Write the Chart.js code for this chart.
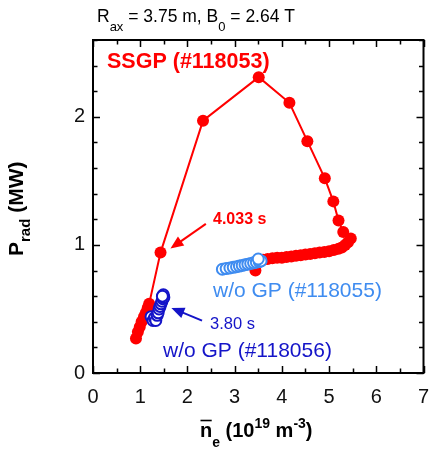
<!DOCTYPE html>
<html>
<head>
<meta charset="utf-8">
<script src="https://cdn.jsdelivr.net/npm/chart.js@4.4.1/dist/chart.umd.min.js"></script>
<style>
  html, body { margin: 0; padding: 0; background: #fff; }
  #wrap { width: 431px; height: 454px; }
</style>
</head>
<body>
<div id="wrap"><canvas id="c" width="431" height="454"></canvas></div>
<script>
// SSGP discharge #118053: line-averaged density vs radiated power
const ssgpNe   = [0.91, 0.95, 0.99, 1.03, 1.08, 1.12, 1.16, 1.19, 1.43, 2.33, 3.51, 4.16, 4.54, 4.91, 5.09, 5.20, 5.30, 5.46,
                  5.40, 5.34, 5.27, 5.20, 5.10, 5.00, 4.90, 4.80, 4.70, 4.60, 4.50, 4.40, 4.30, 4.20, 4.10, 4.00, 3.90, 3.80, 3.70, 3.60, 3.50, 3.44];
const ssgpPrad = [0.27, 0.32, 0.36, 0.40, 0.44, 0.47, 0.51, 0.54, 0.94, 1.97, 2.31, 2.11, 1.81, 1.52, 1.34, 1.19, 1.10, 1.05,
                  1.02, 1.00, 0.98, 0.97, 0.96, 0.95, 0.945, 0.94, 0.935, 0.93, 0.925, 0.92, 0.915, 0.91, 0.905, 0.90, 0.90, 0.895, 0.89, 0.885, 0.88, 0.80];

// Without gas puff, #118055
const gp55Ne   = [2.74, 2.82, 2.90, 2.97, 3.04, 3.10, 3.16, 3.22, 3.28, 3.34, 3.40, 3.46, 3.52, 3.56, 3.50];
const gp55Prad = [0.81, 0.815, 0.82, 0.825, 0.83, 0.835, 0.84, 0.845, 0.85, 0.855, 0.86, 0.865, 0.87, 0.875, 0.89];

// Without gas puff, #118056
const gp56Ne   = [1.23, 1.27, 1.30, 1.33, 1.36, 1.38, 1.40, 1.42, 1.44, 1.46, 1.48, 1.50, 1.49, 1.47];
const gp56Prad = [0.44, 0.41, 0.43, 0.41, 0.45, 0.47, 0.50, 0.52, 0.54, 0.56, 0.58, 0.59, 0.61, 0.60];

// Axis ranges and labelled ticks
const xTicks = [0, 1, 2, 3, 4, 5, 6, 7];
const yTicks = [0, 1, 2];
const xMinorStep = 0.5;
const yMinorStep = 0.2;

const RED = '#ff0000';
const LIGHT_BLUE = '#3f8cf0';
const DARK_BLUE = '#1414c8';
const FONT = "'Liberation Sans', Arial, Helvetica, sans-serif";

function pts(xs, ys) { return xs.map((x, i) => ({ x: x, y: ys[i] })); }

// Draws a run of text pieces (with sub/superscripts) starting at x, on baseline y
function richText(ctx, pieces, x, y, color) {
  ctx.save();
  ctx.fillStyle = color;
  ctx.textBaseline = 'alphabetic';
  ctx.textAlign = 'left';
  let cx = x;
  const spans = [];
  for (const p of pieces) {
    ctx.font = p.font;
    ctx.fillText(p.t, cx, y + (p.dy || 0));
    const w = ctx.measureText(p.t).width;
    spans.push({ x0: cx, x1: cx + w });
    cx += w;
  }
  ctx.restore();
  return spans;
}

function arrow(ctx, x0, y0, x1, y1, color) {
  const ang = Math.atan2(y1 - y0, x1 - x0);
  const len = 13, half = 5.5;
  ctx.save();
  ctx.strokeStyle = color;
  ctx.fillStyle = color;
  ctx.lineWidth = 2;
  ctx.beginPath();
  ctx.moveTo(x0, y0);
  ctx.lineTo(x1 - Math.cos(ang) * len * 0.8, y1 - Math.sin(ang) * len * 0.8);
  ctx.stroke();
  ctx.beginPath();
  ctx.moveTo(x1, y1);
  ctx.lineTo(x1 - Math.cos(ang) * len + Math.sin(ang) * half, y1 - Math.sin(ang) * len - Math.cos(ang) * half);
  ctx.lineTo(x1 - Math.cos(ang) * len - Math.sin(ang) * half, y1 - Math.sin(ang) * len + Math.cos(ang) * half);
  ctx.closePath();
  ctx.fill();
  ctx.restore();
}

// Frame with inward major/minor ticks on all four sides
const framePlugin = {
  id: 'frame',
  afterDatasetsDraw(chart) {
    const { ctx, chartArea: a, scales: { x, y } } = chart;
    ctx.save();
    ctx.strokeStyle = '#000';
    ctx.lineWidth = 1.5;
    const major = 7, minor = 4.5;
    ctx.beginPath();
    for (let v = x.min; v <= x.max + 1e-9; v += xMinorStep) {
      const px = Math.round(x.getPixelForValue(v)) + 0.5;
      const isMajor = Math.abs(v - Math.round(v)) < 1e-6;
      const L = isMajor ? major : minor;
      ctx.moveTo(px, a.bottom); ctx.lineTo(px, a.bottom - L);
      ctx.moveTo(px, a.top); ctx.lineTo(px, a.top + L);
    }
    for (let v = y.min; v <= y.max + 1e-9; v += yMinorStep) {
      const py = Math.round(y.getPixelForValue(v)) + 0.5;
      const isMajor = Math.abs(v - Math.round(v)) < 1e-6;
      const L = isMajor ? major : minor;
      ctx.moveTo(a.left, py); ctx.lineTo(a.left + L, py);
      ctx.moveTo(a.right, py); ctx.lineTo(a.right - L, py);
    }
    ctx.stroke();
    ctx.lineWidth = 2;
    ctx.strokeRect(a.left, a.top, a.right - a.left, a.bottom - a.top);
    ctx.restore();
  }
};

// Titles, axis labels, series labels and time markers
const labelPlugin = {
  id: 'labels',
  afterDraw(chart) {
    const { ctx, scales: { x, y } } = chart;

    // Heading
    richText(ctx, [
      { t: 'R', font: `17.5px ${FONT}` },
      { t: 'ax', font: `13px ${FONT}`, dy: 9 },
      { t: ' = 3.75 m, B', font: `17.5px ${FONT}` },
      { t: '0', font: `13px ${FONT}`, dy: 9 },
      { t: ' = 2.64 T', font: `17.5px ${FONT}` }
    ], 97, 22, '#000');

    // X axis title with overline on n
    const sp = richText(ctx, [
      { t: 'n', font: `bold 20px ${FONT}` },
      { t: 'e', font: `bold 14px ${FONT}`, dy: 10 },
      { t: ' (10', font: `bold 20px ${FONT}` },
      { t: '19', font: `bold 14px ${FONT}`, dy: -9 },
      { t: ' m', font: `bold 20px ${FONT}` },
      { t: '-3', font: `bold 14px ${FONT}`, dy: -9 },
      { t: ')', font: `bold 20px ${FONT}` }
    ], 200, 437, '#000');
    ctx.save();
    ctx.strokeStyle = '#000';
    ctx.lineWidth = 1.6;
    ctx.beginPath();
    ctx.moveTo(sp[0].x0 + 0.5, 420.5);
    ctx.lineTo(sp[0].x1 - 0.5, 420.5);
    ctx.stroke();
    ctx.restore();

    // Y axis title, rotated
    ctx.save();
    ctx.translate(23, 256);
    ctx.rotate(-Math.PI / 2);
    richText(ctx, [
      { t: 'P', font: `bold 21px ${FONT}` },
      { t: 'rad', font: `bold 15px ${FONT}`, dy: 7 },
      { t: ' (MW)', font: `bold 21px ${FONT}` }
    ], 0, 0, '#000');
    ctx.restore();

    // Series labels
    richText(ctx, [{ t: 'SSGP (#118053)', font: `bold 21.5px ${FONT}` }], 107, 68, RED);
    richText(ctx, [{ t: 'w/o GP (#118055)', font: `21px ${FONT}` }], 213, 297, LIGHT_BLUE);
    richText(ctx, [{ t: 'w/o GP (#118056)', font: `21px ${FONT}` }], 163, 357, DARK_BLUE);

    // Time markers
    richText(ctx, [{ t: '4.033 s', font: `bold 16px ${FONT}` }], 213, 224, RED);
    arrow(ctx, x.getPixelForValue(2.39), y.getPixelForValue(1.164),
               x.getPixelForValue(1.64), y.getPixelForValue(0.972), RED);
    richText(ctx, [{ t: '3.80 s', font: `16.5px ${FONT}` }], 210, 329, DARK_BLUE);
    arrow(ctx, x.getPixelForValue(2.31), y.getPixelForValue(0.409),
               x.getPixelForValue(1.66), y.getPixelForValue(0.508), DARK_BLUE);
  }
};

new Chart(document.getElementById('c'), {
  type: 'scatter',
  data: {
    datasets: [
      {
        label: 'SSGP (#118053)',
        data: pts(ssgpNe, ssgpPrad),
        showLine: true,
        borderColor: RED,
        backgroundColor: RED,
        borderWidth: 2,
        pointRadius: 6,
        pointBorderWidth: 0,
        pointBackgroundColor: RED,
        order: 3
      },
      {
        label: 'w/o GP (#118055)',
        data: pts(gp55Ne, gp55Prad),
        showLine: false,
        borderColor: LIGHT_BLUE,
        backgroundColor: '#ffffff',
        pointRadius: 5.5,
        pointBorderWidth: 2,
        order: 2
      },
      {
        label: 'w/o GP (#118056)',
        data: pts(gp56Ne, gp56Prad),
        showLine: false,
        borderColor: DARK_BLUE,
        backgroundColor: '#ffffff',
        pointRadius: 5.5,
        pointBorderWidth: 2,
        order: 1
      }
    ]
  },
  options: {
    responsive: false,
    animation: false,
    events: [],
    layout: { padding: { top: 40, right: 5, left: 0, bottom: 0 } },
    plugins: { legend: { display: false }, title: { display: false }, tooltip: { enabled: false } },
    scales: {
      x: {
        type: 'linear',
        min: xTicks[0],
        max: xTicks[xTicks.length - 1],
        grid: { display: false, drawTicks: false },
        border: { display: false },
        afterFit(s) { s.height = 81; s.paddingLeft = 0; s.paddingRight = 0; },
        afterBuildTicks(s) { s.ticks = xTicks.map(v => ({ value: v })); },
        ticks: {
          padding: 12,
          color: '#111',
          font: { family: FONT, size: 20 },
          maxRotation: 0,
          autoSkip: false
        }
      },
      y: {
        type: 'linear',
        min: 0,
        max: 2.6,
        grid: { display: false, drawTicks: false },
        border: { display: false },
        afterFit(s) { s.width = 93; s.paddingTop = 0; s.paddingBottom = 0; },
        afterBuildTicks(s) { s.ticks = yTicks.map(v => ({ value: v })); },
        ticks: {
          padding: 8,
          color: '#111',
          font: { family: FONT, size: 20 },
          autoSkip: false
        }
      }
    }
  },
  plugins: [framePlugin, labelPlugin]
});
</script>
</body>
</html>
